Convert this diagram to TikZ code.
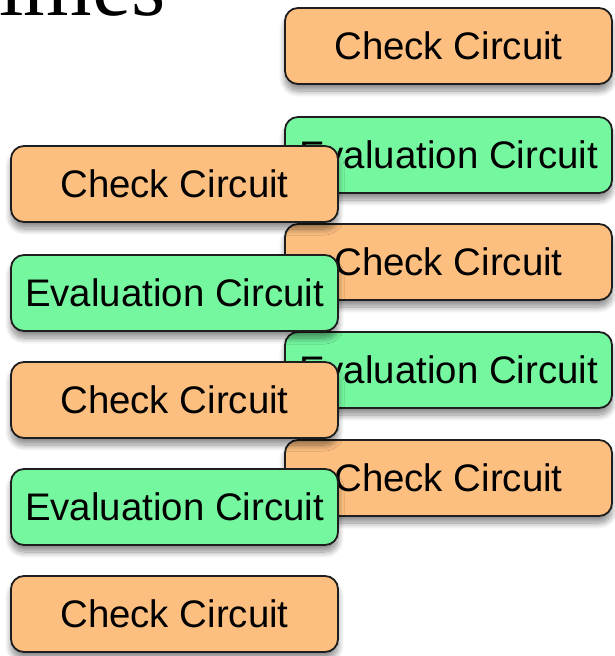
\documentclass[tikz,border=0pt]{standalone}
\usepackage{fontspec}
\setmainfont{Liberation Sans}
\newfontfamily\titlefont{Liberation Serif}
\usetikzlibrary{shadows.blur}
\definecolor{peach}{RGB}{253,191,128}
\definecolor{mint}{RGB}{117,247,160}
\definecolor{edge}{RGB}{30,30,30}
\tikzset{
  circbox/.style={draw=edge, line width=1.8pt, rounded corners=13pt,
    minimum width=327pt, minimum height=76pt, inner sep=0pt,
    font=\fontsize{38.4}{40}\selectfont,
    blur shadow={shadow xshift=0pt, shadow yshift=-7pt, shadow blur radius=6pt, shadow blur steps=10, shadow opacity=45}},
  checkbox/.style={circbox, fill=peach},
  evalbox/.style={circbox, fill=mint}
}
\begin{document}
\begin{tikzpicture}[x=1pt,y=-1pt]
\useasboundingbox (0,0) rectangle (615,656);
\node[anchor=base west, inner sep=0pt, font=\titlefont\fontsize{88}{90}\selectfont] (title) at (-1,15) {imes};
% right column
\node[checkbox] (r1) at (448.5,46) {Check Circuit};
\node[evalbox]  (r2) at (448.5,155) {Evaluation Circuit};
\node[checkbox] (r3) at (448.5,262) {Check Circuit};
\node[evalbox]  (r4) at (448.5,370) {Evaluation Circuit};
\node[checkbox] (r5) at (448.5,478) {Check Circuit};
% left column
\node[checkbox] (l1) at (174.5,184) {Check Circuit};
\node[evalbox]  (l2) at (174.5,293) {Evaluation Circuit};
\node[checkbox] (l3) at (174.5,400) {Check Circuit};
\node[evalbox]  (l4) at (174.5,507) {Evaluation Circuit};
\node[checkbox] (l5) at (174.5,614) {Check Circuit};
\end{tikzpicture}
\end{document}
